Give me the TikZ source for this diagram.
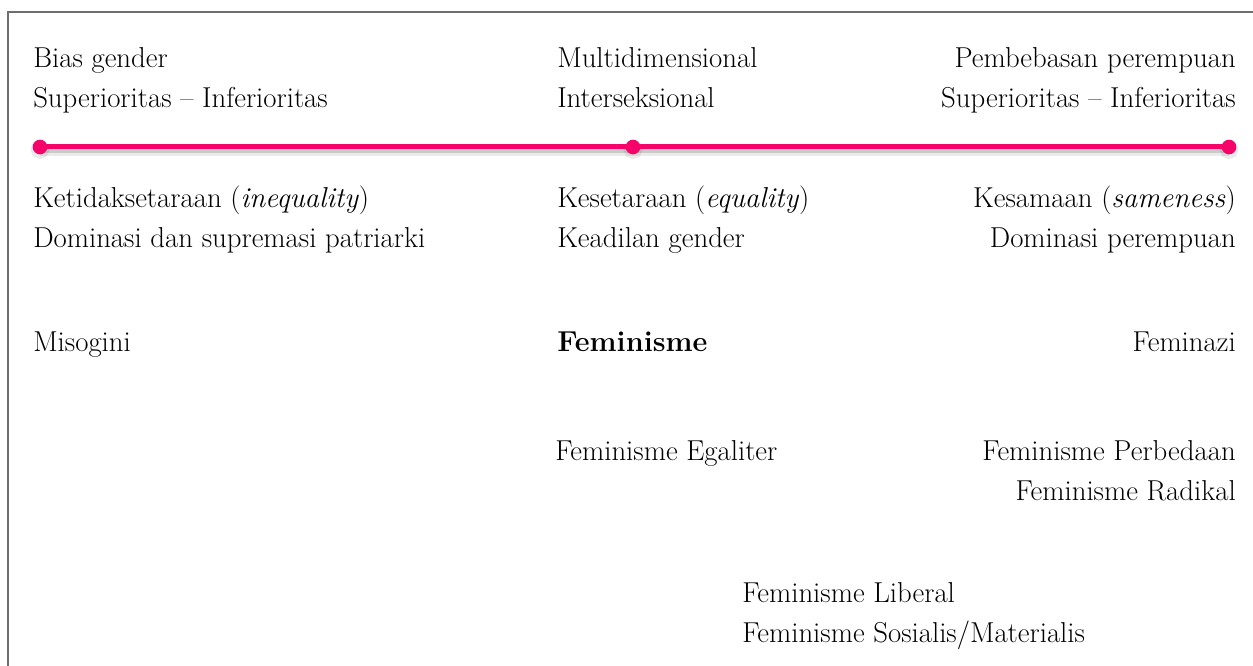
\documentclass[tikz,border=0pt]{standalone}
\definecolor{pinkline}{RGB}{245,5,105}
\definecolor{framegray}{RGB}{110,110,110}
\begin{document}
\begin{tikzpicture}[x=0.75pt,y=-0.75pt,
  txt/.style={inner sep=0pt, font=\fontsize{21.6}{30}\selectfont},
  lt/.style={txt,anchor=base west},
  rt/.style={txt,anchor=base east},
  dot/.style={circle, fill=pinkline, inner sep=0pt, minimum size=11pt}]
\useasboundingbox (0,0) rectangle (1253,666);
% frame
\coordinate (fb) at (8,666);
\coordinate (fc) at (8,12);
\coordinate (fr) at (1253,12);
\draw[framegray, line width=1.5pt] (fb) -- (fc) -- (fr);
% timeline
\coordinate (L) at (40,147);
\coordinate (M) at (633,147);
\coordinate (R) at (1229,147);
\draw[black, opacity=0.08, line width=7pt] ([yshift=-3pt]L) -- ([yshift=-3pt]R);
\draw[black, opacity=0.14, line width=4pt] ([yshift=-2.5pt]L) -- ([yshift=-2.5pt]R);
\draw[black, opacity=0.08, line width=6pt, fill] ([yshift=-2pt]L) circle (4pt) ([yshift=-2pt]M) circle (4pt) ([yshift=-2pt]R) circle (4pt);
\draw[pinkline, line width=3.75pt] (L) -- (R);
\node[dot] (dL) at (L) {};
\node[dot] (dM) at (M) {};
\node[dot] (dR) at (R) {};
% left column
\node[lt] (l1) at (33,68) {Bias gender};
\node[lt] (l2) at (33,108) {Superioritas -- Inferioritas};
\node[lt] (l3) at (33,208) {Ketidaksetaraan (\textit{inequality})};
\node[lt] (l4) at (33,248) {Dominasi dan supremasi patriarki};
\node[lt] (l5) at (33,352) {Misogini};
% middle column
\node[lt] (m1) at (557,68) {Multidimensional};
\node[lt] (m2) at (557,108) {Interseksional};
\node[lt] (m3) at (557,208) {Kesetaraan (\textit{equality})};
\node[lt] (m4) at (557,248) {Keadilan gender};
\node[lt] (m5) at (557,352) {\textbf{Feminisme}};
\node[lt] (m6) at (555,460) {Feminisme Egaliter};
\node[lt] (m7) at (742,602) {Feminisme Liberal};
\node[lt] (m8) at (742,642) {Feminisme Sosialis/Materialis};
% right column
\node[rt] (r1) at (1236,68) {Pembebasan perempuan};
\node[rt] (r2) at (1236,108) {Superioritas -- Inferioritas};
\node[rt] (r3) at (1236,208) {Kesamaan (\textit{sameness})};
\node[rt] (r4) at (1236,248) {Dominasi perempuan};
\node[rt] (r5) at (1236,352) {Feminazi};
\node[rt] (r6) at (1236,460) {Feminisme Perbedaan};
\node[rt] (r7) at (1236,500) {Feminisme Radikal};
\end{tikzpicture}
\end{document}
